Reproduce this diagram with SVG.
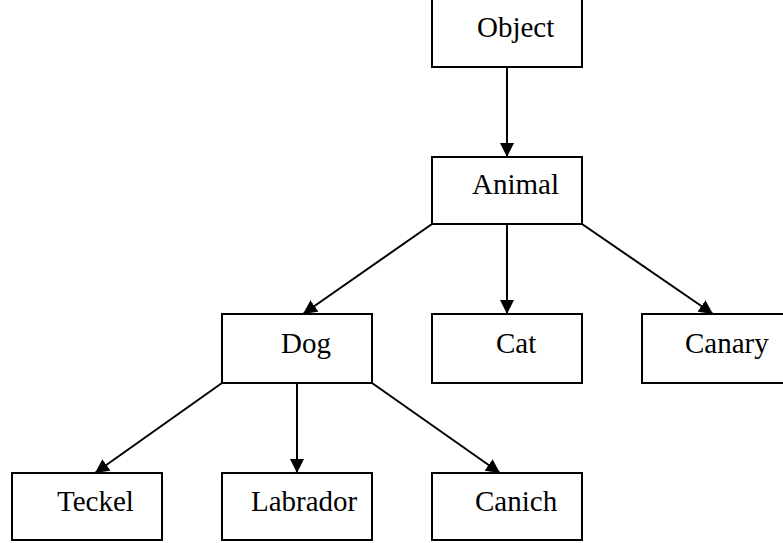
<svg xmlns="http://www.w3.org/2000/svg" width="783" height="543" viewBox="0 0 783 543">
<style>
.box{fill:#fff;stroke:#000;stroke-width:2}
.lbl{font-family:'Liberation Serif','Times New Roman',serif;font-size:29px;fill:#000}
.edge{stroke:#000;stroke-width:2;fill:none;marker-end:url(#arr)}
</style>
<defs>
<marker id="arr" markerUnits="userSpaceOnUse" markerWidth="16" markerHeight="16" refX="14" refY="7" orient="auto">
<path d="M0,0 L14,7 L0,14 z" fill="#000"/>
</marker>
</defs>
<rect width="783" height="543" fill="#fff"/>
<g id="connectors">
<line class="edge" x1="507" y1="67" x2="507" y2="157"/>
<line class="edge" x1="432" y1="224" x2="303" y2="314"/>
<line class="edge" x1="507" y1="224" x2="507" y2="314"/>
<line class="edge" x1="582" y1="224" x2="713" y2="314"/>
<line class="edge" x1="222" y1="383" x2="95" y2="473"/>
<line class="edge" x1="297" y1="383" x2="297" y2="473"/>
<line class="edge" x1="372" y1="383" x2="500" y2="473"/>
</g>
<g id="object"><rect class="box" x="432" y="-1" width="150" height="68"/><text class="lbl" x="477" y="37">Object</text></g>
<g id="animal"><rect class="box" x="432" y="157" width="150" height="67"/><text class="lbl" x="472" y="194">Animal</text></g>
<g id="dog"><rect class="box" x="222" y="314" width="150" height="69"/><text class="lbl" x="281" y="353">Dog</text></g>
<g id="cat"><rect class="box" x="432" y="314" width="150" height="69"/><text class="lbl" x="496" y="353">Cat</text></g>
<g id="canary"><rect class="box" x="642" y="314" width="150" height="69"/><text class="lbl" x="685" y="353">Canary</text></g>
<g id="teckel"><rect class="box" x="12" y="473" width="150" height="67"/><text class="lbl" x="57" y="511">Teckel</text></g>
<g id="labrador"><rect class="box" x="222" y="473" width="150" height="67"/><text class="lbl" x="251" y="511">Labrador</text></g>
<g id="canich"><rect class="box" x="432" y="473" width="150" height="67"/><text class="lbl" x="475" y="511">Canich</text></g>
</svg>
